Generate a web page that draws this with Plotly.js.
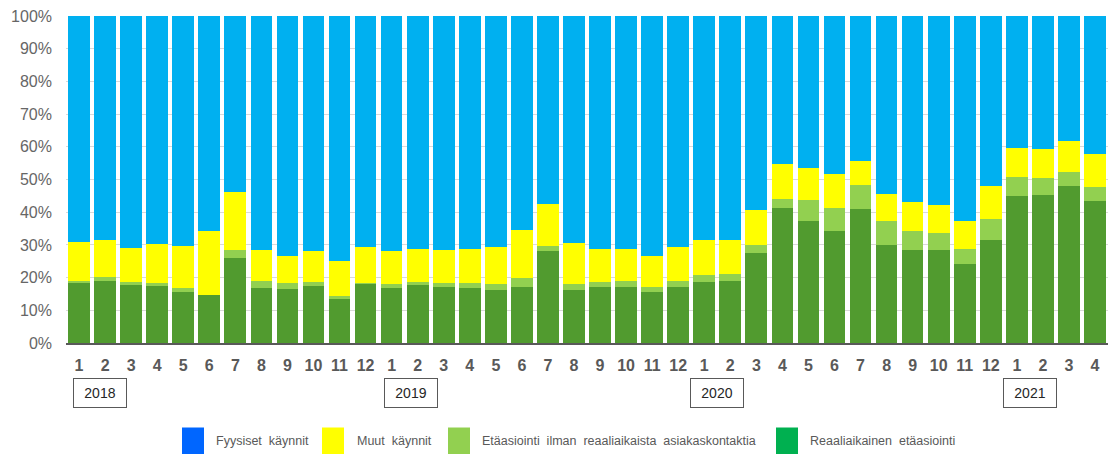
<!DOCTYPE html>
<html>
<head>
<meta charset="utf-8">
<script src="https://cdn.plot.ly/plotly-3.0.1.min.js"></script>
<style>
  html, body { margin: 0; padding: 0; background: #ffffff; }
  #chart { width: 1111px; height: 455px; }
</style>
</head>
<body>
<div id="chart"></div>
<script>
// ---- Data (shares of all contacts, %) ----
const months = [1,2,3,4,5,6,7,8,9,10,11,12, 1,2,3,4,5,6,7,8,9,10,11,12, 1,2,3,4,5,6,7,8,9,10,11,12, 1,2,3,4];
const years  = [2018,2018,2018,2018,2018,2018,2018,2018,2018,2018,2018,2018,
                2019,2019,2019,2019,2019,2019,2019,2019,2019,2019,2019,2019,
                2020,2020,2020,2020,2020,2020,2020,2020,2020,2020,2020,2020,
                2021,2021,2021,2021];
const yearLabels = ["2018", "2019", "2020", "2021"];
const yTickValues = [0,10,20,30,40,50,60,70,80,90,100];
const yTickLabels = ["0%","10%","20%","30%","40%","50%","60%","70%","80%","90%","100%"];

const seriesNames = ["Fyysiset käynnit", "Muut käynnit",
                     "Etäasiointi ilman reaaliaikaista asiakaskontaktia",
                     "Reaaliaikainen etäasiointi"];

const reaaliaikainen = [18.3,19.1,17.6,17.3,15.7,14.6,25.9,16.9,16.6,17.3,13.4,18.1,
                        16.8,17.6,17.2,16.9,16.2,17.2,28.1,16.2,17.2,17.2,15.6,17.2,
                        18.8,19.1,27.6,41.2,37.4,34.4,40.9,30.1,28.3,28.3,24.2,31.4,
                        45.1,45.4,48.0,43.5];
const etaIlman = [0.8,1.2,1.2,1.2,1.2,0.2,2.4,2.2,1.9,1.5,1.0,0.2,
                  1.1,1.2,1.0,1.3,1.7,2.6,1.7,1.7,1.6,1.9,1.6,1.9,
                  2.1,2.1,2.5,2.9,6.4,6.8,7.3,7.1,6.1,5.4,4.5,6.4,
                  5.6,5.0,4.3,4.1];
const muut = [11.7,11.1,10.4,11.7,12.9,19.5,18.0,9.2,8.1,9.2,10.7,11.2,
              10.1,10.1,10.1,10.7,11.6,14.8,12.8,12.6,10.1,9.8,9.4,10.4,
              10.5,10.2,10.7,10.7,9.8,10.5,7.6,8.5,8.8,8.4,8.5,10.2,
              9.0,8.9,9.5,10.2];
const fyysiset = [69.2,68.6,70.8,69.8,70.2,65.7,53.7,71.7,73.4,72.0,74.9,70.5,
                  72.0,71.1,71.7,71.1,70.5,65.4,57.4,69.5,71.1,71.1,73.4,70.5,
                  68.6,68.6,59.2,45.2,46.4,48.3,44.2,54.3,56.8,57.9,62.8,52.0,
                  40.3,40.7,38.2,42.2];

// ---- Styling ----
const barColors    = { fy: "#00b0f0", mu: "#ffff00", et: "#92d050", re: "#519b2f" };
const legendColors = ["#0066ff", "#ffff00", "#92d050", "#00b050"];

const W = 1111, H = 455;
const M = { l: 66, r: 3, t: 16, b: 112 };
const plotW = W - M.l - M.r, plotH = H - M.t - M.b;
const pxX = px => (px - M.l) / plotW;
const pxY = py => (H - M.b - py) / plotH;

const periods = years.map((y, i) => y + "-" + months[i]);

function barTrace(name, vals, color) {
  return {
    type: "bar", x: periods, y: vals, name: name,
    marker: { color: color, line: { width: 0 } },
    showlegend: false, hoverinfo: "name+y"
  };
}

const traces = [
  barTrace(seriesNames[3], reaaliaikainen, barColors.re),
  barTrace(seriesNames[2], etaIlman, barColors.et),
  barTrace(seriesNames[1], muut, barColors.mu),
  barTrace(seriesNames[0], fyysiset, barColors.fy)
];

// Year boxes: placed below the month labels
const yearBoxCenters = [0.8, 12.76, 24.5, 36.5];
const annotations = yearLabels.map((t, i) => ({
  text: t, xref: "x", yref: "paper",
  x: yearBoxCenters[i], y: pxY(392.5),
  xanchor: "center", yanchor: "middle",
  showarrow: false, width: 52, height: 28,
  bordercolor: "#595959", borderwidth: 1, borderpad: 0,
  bgcolor: "#ffffff",
  font: { family: "Liberation Sans, Arial, sans-serif", size: 14, color: "#262626" }
}));

// Custom legend (swatches + labels)
const legendSwatchX = [182, 322, 448, 776];
const legendTextX   = [214, 355, 480, 808];
const shapes = [];
seriesNames.forEach((n, i) => {
  shapes.push({
    type: "rect", xref: "paper", yref: "paper",
    x0: pxX(legendSwatchX[i]), x1: pxX(legendSwatchX[i] + 22),
    y0: pxY(454), y1: pxY(427.5),
    fillcolor: legendColors[i], line: { width: 0 }
  });
  annotations.push({
    text: n.replace(/ /g, "\u00a0 "), xref: "paper", yref: "paper",
    x: pxX(legendTextX[i]), y: pxY(441),
    xanchor: "left", yanchor: "middle", showarrow: false,
    font: { family: "Liberation Sans, Arial, sans-serif", size: 12.5, color: "#595959" }
  });
});

const layout = {
  width: W, height: H,
  margin: M,
  paper_bgcolor: "#ffffff", plot_bgcolor: "#ffffff",
  barmode: "stack", bargap: 0.167,
  showlegend: false,
  xaxis: {
    type: "category",
    tickmode: "array",
    tickvals: periods, ticktext: months.map(String),
    tickfont: { family: "Liberation Sans, Arial, sans-serif", size: 16, color: "#595959", weight: "bold" },
    ticks: "", showgrid: false,
    showline: true, linecolor: "#595959", linewidth: 2,
    ticklabelstandoff: 7,
    range: [-0.5, 39.5], fixedrange: true
  },
  yaxis: {
    range: [0, 100],
    tickmode: "array",
    tickvals: yTickValues, ticktext: yTickLabels,
    tickfont: { family: "Liberation Sans, Arial, sans-serif", size: 16, color: "#666666" },
    showgrid: true, gridcolor: "#d9d9d9", gridwidth: 1,
    zeroline: false, showline: false, ticks: "",
    ticklabelstandoff: 13, fixedrange: true
  },
  annotations: annotations,
  shapes: shapes
};

Plotly.newPlot("chart", traces, layout, { displayModeBar: false, staticPlot: true });
</script>
</body>
</html>
